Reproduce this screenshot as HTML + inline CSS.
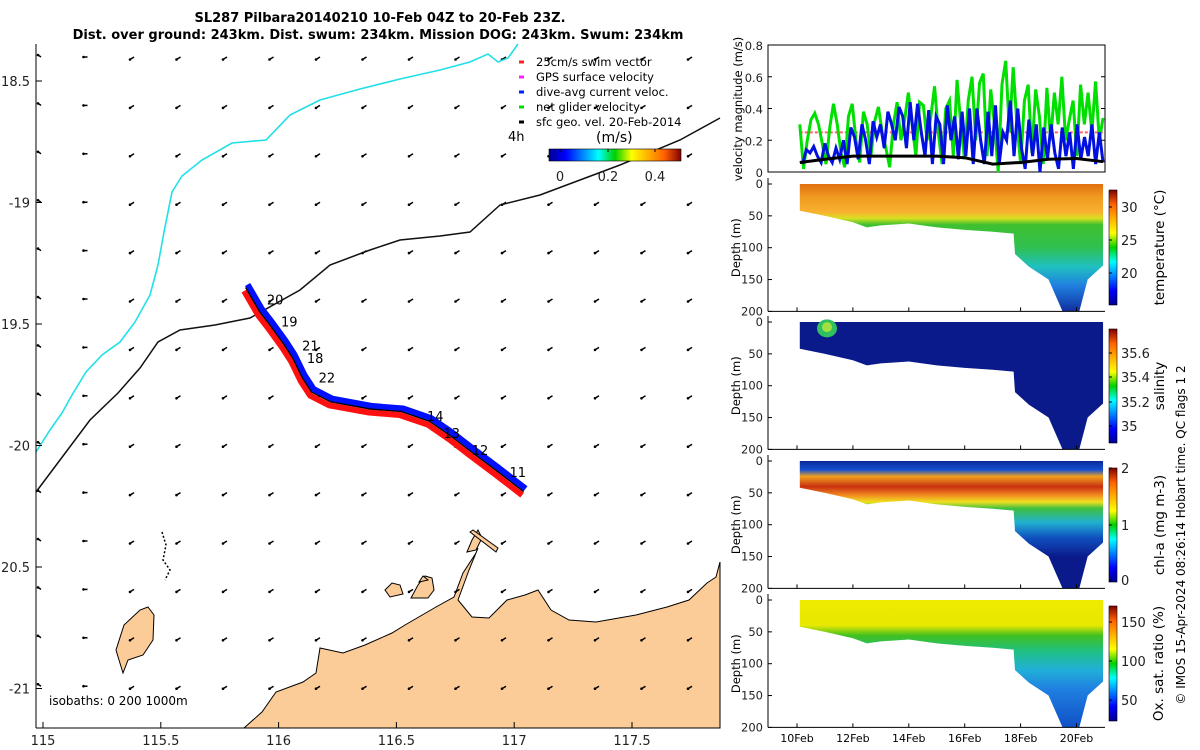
<!DOCTYPE html>
<html><head><meta charset="utf-8">
<style>
body{margin:0;background:#fff;}
svg{display:block;font-family:"DejaVu Sans","Liberation Sans",sans-serif;}
</style></head>
<body>
<svg id="fig" width="1200" height="750" viewBox="0 0 1200 750">
<defs>
<linearGradient id="jet" x1="0" y1="0" x2="1" y2="0">
<stop offset="0" stop-color="#00008f"/><stop offset="0.125" stop-color="#0000ff"/><stop offset="0.375" stop-color="#00ffff"/><stop offset="0.5" stop-color="#00d000"/><stop offset="0.625" stop-color="#ffff00"/><stop offset="0.875" stop-color="#ff6000"/><stop offset="1" stop-color="#800000"/>
</linearGradient>
<linearGradient id="jetv" x1="0" y1="1" x2="0" y2="0">
<stop offset="0" stop-color="#00008f"/><stop offset="0.125" stop-color="#0000ff"/><stop offset="0.375" stop-color="#00ffff"/><stop offset="0.5" stop-color="#00d000"/><stop offset="0.625" stop-color="#ffff00"/><stop offset="0.875" stop-color="#ff6000"/><stop offset="1" stop-color="#800000"/>
</linearGradient>
<linearGradient id="gTemp" gradientUnits="userSpaceOnUse" x1="0" y1="184" x2="0" y2="311">
<stop offset="0" stop-color="#e07010"/><stop offset="0.1" stop-color="#f09a20"/><stop offset="0.22" stop-color="#f8b030"/><stop offset="0.27" stop-color="#d8e020"/><stop offset="0.32" stop-color="#40c030"/><stop offset="0.5" stop-color="#30c050"/><stop offset="0.65" stop-color="#20c0c0"/><stop offset="0.8" stop-color="#2080e0"/><stop offset="1" stop-color="#1030a0"/>
</linearGradient>
<linearGradient id="gChl" gradientUnits="userSpaceOnUse" x1="0" y1="461" x2="0" y2="589">
<stop offset="0" stop-color="#0a2a9a"/><stop offset="0.07" stop-color="#1550d0"/><stop offset="0.12" stop-color="#f0a020"/><stop offset="0.2" stop-color="#c83010"/><stop offset="0.26" stop-color="#f08020"/><stop offset="0.32" stop-color="#f0e020"/><stop offset="0.37" stop-color="#40c040"/><stop offset="0.48" stop-color="#20b0d0"/><stop offset="0.6" stop-color="#1050c0"/><stop offset="0.75" stop-color="#0a1a8a"/><stop offset="1" stop-color="#0a1a8a"/>
</linearGradient>
<linearGradient id="gOx" gradientUnits="userSpaceOnUse" x1="0" y1="600" x2="0" y2="727">
<stop offset="0" stop-color="#f0ea00"/><stop offset="0.2" stop-color="#e8e800"/><stop offset="0.28" stop-color="#40c020"/><stop offset="0.4" stop-color="#20c080"/><stop offset="0.55" stop-color="#20b0d8"/><stop offset="0.7" stop-color="#2080e0"/><stop offset="1" stop-color="#1050c8"/>
</linearGradient>
</defs>

<text x="380" y="22" text-anchor="middle" font-size="13" font-weight="bold">SL287 Pilbara20140210 10-Feb 04Z to 20-Feb 23Z.</text>
<text x="378" y="39" text-anchor="middle" font-size="13" font-weight="bold">Dist. over ground: 243km. Dist. swum: 234km. Mission DOG: 243km. Swum: 234km</text>

<g id="map"></g>
<g id="right"></g>
</svg>
<script>
const NS='http://www.w3.org/2000/svg';
function mk(parent,tag,attrs,txt){const e=document.createElementNS(NS,tag);for(const k in attrs)e.setAttribute(k,attrs[k]);if(txt!==undefined)e.textContent=txt;parent.appendChild(e);return e;}

// ---------- MAP DATA ----------
const mapLonTicks=[115,115.5,116,116.5,117,117.5];
const mapLonLabels=['115','115.5','116','116.5','117','117.5'];
const mapLatTicks=[-18.5,-19,-19.5,-20,-20.5,-21];
const mapLatLabels=['18.5','-19','19.5','-20','20.5','-21'];
const trackLon=[115.86,115.92,115.96,116.02,116.06,116.1,116.14,116.22,116.39,116.52,116.64,116.73,116.81,116.92,117.04];
const trackLat=[-19.35,-19.45,-19.5,-19.58,-19.64,-19.72,-19.78,-19.82,-19.85,-19.86,-19.9,-19.96,-20.02,-20.1,-20.19];
const dayLabels=['20','19','21','18','22','14','13','12','11'];
const dayLon=[115.95,116.01,116.1,116.12,116.17,116.63,116.7,116.82,116.98];
const dayLat=[-19.42,-19.51,-19.61,-19.66,-19.74,-19.9,-19.97,-20.04,-20.13];

const map=document.getElementById('map');
const lx=lon=>43+(lon-115)*235.6;
const ly=lat=>81+(-18.5-lat)*243;

// land
const land=mk(map,'polygon',{points:'244,728 262,712 276,692 303,682 316,673 320,648 343,653 365,645 392,633 405,625 436,607 454,597 463,573 476,553 478,548 469,570 458,600 472,617 489,618 507,600 525,595 538,590 551,610 569,620 596,622 636,615 667,607 689,600 707,583 716,577 720,562 720,728',fill:'#fccc98',stroke:'#000','stroke-width':1});


const islands=['148,607 154,615 153,640 143,655 128,660 123,673 119,660 116,650 124,625 140,610','385,590 392,583 400,585 403,594 390,597','411,598 418,585 425,576 432,578 434,590 428,598','467,552 472,540 478,530 482,538 476,550','470,532 473,530 498,548 496,552','419,582 423,576 428,580'];
islands.forEach((p,i)=>{const e=mk(map,'polygon',{points:p,fill:'#fccc98',stroke:'#000','stroke-width':1});

});
mk(map,'path',{d:'M162,532 L166,545 L163,560 L170,570 L165,580',fill:'none',stroke:'#000','stroke-width':1.5,'stroke-dasharray':'2 2'});

// arrows grid
for(let r=0;r<14;r++){for(let c=0;c<15;c++){
 const x=41+c*46.5, y=57+r*48.4;
 const dx=c===0?-3:-4, dy=c===0?-2:(c===1?0:2.5);
 const a=mk(map,'line',{x1:x,y1:y,x2:x+dx,y2:y+dy,stroke:'#000','stroke-width':1.5});
 
 
 mk(map,'circle',{cx:x+dx,cy:y+dy,r:1.3,fill:'#000'});
}}

// cyan & black lines
const cy=mk(map,'polyline',{points:'36,452 50,430 62,413 72,395 86,372 102,355 120,342 135,322 150,295 158,265 164,232 172,192 182,176 202,160 232,143 266,140 290,115 320,100 360,89 400,79 440,70 470,62 488,54 498,62 508,58 518,44',fill:'none',stroke:'#20e0e8','stroke-width':1.6});


const bl=mk(map,'polyline',{points:'36,492 60,460 90,420 118,393 140,368 158,342 180,330 215,325 250,318 300,290 330,265 370,250 400,240 440,236 470,232 500,205 540,195 580,180 620,165 680,140 720,118',fill:'none',stroke:'#111','stroke-width':1.5});



// track
const tp=trackLon.map((v,i)=>[lx(v),ly(trackLat[i])]);
const ptsOff=(dx,dy)=>tp.map(p=>(p[0]+dx)+','+(p[1]+dy)).join(' ');
const red=mk(map,'polyline',{points:ptsOff(-1.5,3.5),fill:'none',stroke:'#ff1010','stroke-width':6,'stroke-linejoin':'round'});


const blu=mk(map,'polyline',{points:ptsOff(2,-3),fill:'none',stroke:'#0010ff','stroke-width':6,'stroke-linejoin':'round'});


const tr=mk(map,'polyline',{points:ptsOff(0,0),fill:'none',stroke:'#000','stroke-width':1.3});


dayLabels.forEach((t,i)=>{const e=mk(map,'text',{x:lx(dayLon[i]),y:ly(dayLat[i]),'font-size':13},t);

});

// axes
mk(map,'line',{x1:36,y1:44,x2:36,y2:728,stroke:'#000'});
mk(map,'line',{x1:36,y1:728,x2:720,y2:728,stroke:'#000'});
mapLonTicks.forEach((v,i)=>{const x=lx(v);mk(map,'line',{x1:x,y1:728,x2:x,y2:722,stroke:'#000'});
const t=mk(map,'text',{x:x,y:745,'text-anchor':'middle','font-size':13,fill:'#222'},mapLonLabels[i]);

});
mapLatTicks.forEach((v,i)=>{const y=ly(v);mk(map,'line',{x1:36,y1:y,x2:42,y2:y,stroke:'#000'});
const t=mk(map,'text',{x:30,y:y+5,'text-anchor':'end','font-size':13,fill:'#222'},mapLatLabels[i]);

});
const iso=mk(map,'text',{x:49,y:705,'font-size':12},'isobaths: 0   200  1000m');



// legend
const legLabels=['25cm/s swim vector','GPS surface velocity','dive-avg current veloc.','net glider velocity','sfc geo. vel. 20-Feb-2014'];
const legColors=['#ff2020','#ff20ff','#0020ff','#00e000','#000'];
legLabels.forEach((t,i)=>{const y=62+i*15;
mk(map,'line',{x1:519,y1:y,x2:524,y2:y,stroke:legColors[i],'stroke-width':3});
const e=mk(map,'text',{x:536,y:y+4,'font-size':11.5},t);

});
mk(map,'text',{x:508,y:141,'font-size':13},'4h');
mk(map,'text',{x:596,y:142,'font-size':14},'(m/s)');
const cb=mk(map,'rect',{x:549,y:149,width:132,height:12,fill:'url(#jet)',stroke:'#000','stroke-width':0.6});


[['0',560],['0.2',608],['0.4',655]].forEach(d=>{mk(map,'line',{x1:d[1],y1:149,x2:d[1],y2:152,stroke:'#000'});mk(map,'text',{x:d[1],y:181,'text-anchor':'middle','font-size':13,fill:'#222'},d[0]);});

// ---------- RIGHT PANELS DATA ----------
const timeTicks=[10,12,14,16,18,20];
const timeLabels=['10Feb','12Feb','14Feb','16Feb','18Feb','20Feb'];
const greenVel=[0.3,0.02,0.2,0.33,0.37,0.3,0.18,0.05,0.28,0.43,0.3,0.12,0.03,0.35,0.43,0.2,0.06,0.38,0.3,0.1,0.32,0.41,0.25,0.15,0.03,0.3,0.44,0.2,0.33,0.5,0.3,0.1,0.44,0.42,0.2,0.35,0.54,0.25,0.05,0.4,0.45,0.1,0.58,0.3,0.08,0.45,0.6,0.2,0.56,0.62,0.1,0.52,0.3,0.0,0.55,0.7,0.25,0.66,0.3,0.05,0.45,0.55,0.12,0.52,0.35,0.05,0.53,0.2,0.5,0.3,0.6,0.2,0.33,0.45,0.1,0.55,0.3,0.5,0.25,0.57,0.2,0.34];
const blueVel=[0.05,0.14,0.12,0.16,0.1,0.06,0.18,0.1,0.06,0.15,0.08,0.2,0.05,0.28,0.22,0.08,0.3,0.2,0.05,0.32,0.22,0.3,0.15,0.38,0.3,0.2,0.41,0.35,0.15,0.44,0.2,0.43,0.25,0.1,0.39,0.05,0.35,0.3,0.05,0.42,0.2,0.35,0.08,0.38,0.1,0.4,0.05,0.4,0.2,0.05,0.38,0.1,0.42,0.05,0.25,0.2,0.45,0.1,0.4,0.15,0.02,0.33,0.1,0.3,0.0,0.28,0.08,0.3,0.12,0.02,0.28,0.1,0.25,0.02,0.3,0.08,0.22,0.1,0.3,0.05,0.25,0.06];
const geoTime=[10.1,11,12,13,14,15,16,17,18,19,20,20.95];
const geoVel=[0.06,0.08,0.1,0.1,0.1,0.1,0.09,0.05,0.06,0.08,0.085,0.065];
const swimVel=[0.25,0.25];
const profTime=[10.1,11,12,12.5,13,14,15,16,17,17.75,17.8,18.3,19,19.5,20.1,20.4,20.95];
const profDepth=[42,50,60,68,65,62,68,72,75,78,110,130,150,200,200,150,128];

const R=document.getElementById('right');
const px=t=>797+(t-10)*27.95;
const X0=768,X1=1105;

// velocity panel
const vy=v=>172-v*158.75;
mk(R,'rect',{x:X0,y:45,width:X1-X0,height:127,fill:'none',stroke:'#000'});
[0,0.2,0.4,0.6,0.8].forEach(v=>{mk(R,'line',{x1:X0,y1:vy(v),x2:X0+4,y2:vy(v),stroke:'#000'});mk(R,'line',{x1:X1,y1:vy(v),x2:X1-4,y2:vy(v),stroke:'#000'});
mk(R,'text',{x:763,y:vy(v)+5,'text-anchor':'end','font-size':11.5,fill:'#222'},String(v));});
const tline=(arr,t0,t1)=>arr.map((v,i)=>px(t0+(t1-t0)*i/(arr.length-1))+','+vy(v)).join(' ');
const sw=mk(R,'polyline',{points:tline(swimVel,10.1,20.95),fill:'none',stroke:'#ff6060','stroke-width':2,'stroke-dasharray':'3 2'});


const gl=mk(R,'polyline',{points:tline(greenVel,10.1,20.95),fill:'none',stroke:'#00e000','stroke-width':3});


const bll=mk(R,'polyline',{points:tline(blueVel,10.2,20.95),fill:'none',stroke:'#0010e0','stroke-width':3});


const gk=mk(R,'polyline',{points:geoTime.map((t,i)=>px(t)+','+vy(geoVel[i])).join(' '),fill:'none',stroke:'#000','stroke-width':3});


const vl=mk(R,'text',{transform:'translate(742,109) rotate(-90)','text-anchor':'middle','font-size':11.5},'velocity magnitude (m/s)');



// sections
const panels=[
 {top:184,fill:'url(#gTemp)',label:'temperature (°C)',cb:[190,305],ticks:[['30',207],['25',240],['20',273]],name:'temperature-section'},
 {top:322,fill:'#0a1a8a',label:'salinity',cb:[329,443],ticks:[['35.6',353],['35.4',377],['35.2',402],['35',426]],name:'salinity-section'},
 {top:461,fill:'url(#gChl)',label:'chl-a (mg m-3)',cb:[468,582],ticks:[['2',468],['1',525],['0',580]],name:'chlorophyll-section'},
 {top:600,fill:'url(#gOx)',label:'Ox. sat. ratio (%)',cb:[606,721],ticks:[['150',622],['100',661],['50',700]],name:'oxygen-section'}
];
panels.forEach((p,k)=>{
 const dy=d=>p.top+d*0.637;
 const pts=[px(profTime[0])+','+dy(0),px(profTime[profTime.length-1])+','+dy(0)];
 for(let i=profTime.length-1;i>=0;i--)pts.push(px(profTime[i])+','+dy(profDepth[i]));
 const s=mk(R,'polygon',{points:pts.join(' '),fill:p.fill});
 
 
 if(k===1){mk(R,'ellipse',{cx:827,cy:dy(10),rx:10,ry:9,fill:'#30c060'});mk(R,'ellipse',{cx:827,cy:dy(8),rx:5,ry:5,fill:'#a0e040'});}
 mk(R,'line',{x1:X0,y1:p.top-6,x2:X0,y2:dy(200),stroke:'#000'});
 mk(R,'line',{x1:X0,y1:dy(200),x2:X1,y2:dy(200),stroke:'#000'});
 [0,50,100,150,200].forEach(d=>{mk(R,'line',{x1:X0,y1:dy(d),x2:X0+4,y2:dy(d),stroke:'#000'});
  mk(R,'text',{x:763,y:dy(d)+4,'text-anchor':'end','font-size':11.5,fill:'#222'},String(d));});
 timeTicks.forEach(t=>mk(R,'line',{x1:px(t),y1:dy(200),x2:px(t),y2:dy(200)-4,stroke:'#000'}));
 const dl=mk(R,'text',{transform:'translate(740,'+dy(100)+') rotate(-90)','text-anchor':'middle','font-size':11.5},'Depth (m)');
 
 
 const c=mk(R,'rect',{x:1109,y:p.cb[0],width:8,height:p.cb[1]-p.cb[0],fill:'url(#jetv)',stroke:'#000','stroke-width':0.6});
 
 
 p.ticks.forEach(t=>{mk(R,'line',{x1:1109,y1:t[1],x2:1112,y2:t[1],stroke:'#000'});mk(R,'text',{x:1121,y:t[1]+5,'font-size':13,fill:'#222'},t[0]);});
 const lb=mk(R,'text',{transform:'translate('+(k===3?1163:1164)+','+((p.cb[0]+p.cb[1])/2)+') rotate(-90)','text-anchor':'middle','font-size':13.5},p.label);
 
 
});
timeTicks.forEach((t,i)=>{const e=mk(R,'text',{x:px(t),y:742,'text-anchor':'middle','font-size':11},timeLabels[i]);

});
const cp=mk(R,'text',{transform:'translate(1185,535) rotate(-90)','text-anchor':'middle','font-size':12},'© IMOS 15-Apr-2024 08:26:14 Hobart time. QC flags 1  2');


</script>
</body></html>
